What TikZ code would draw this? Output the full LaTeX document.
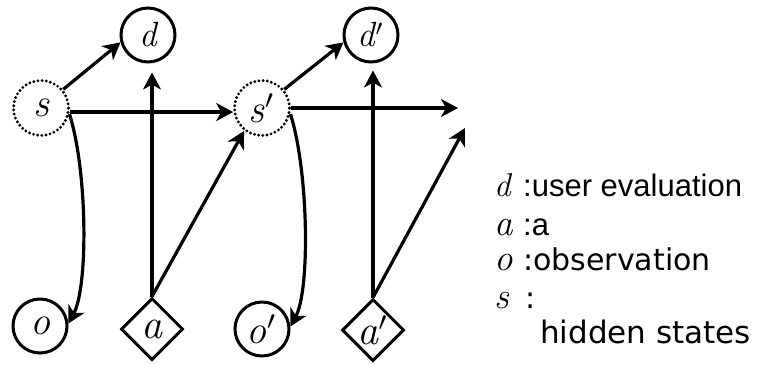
\documentclass[tikz,border=0pt]{standalone}
\usepackage{graphicx}
\usepackage{fontspec}
\usetikzlibrary{arrows.meta,shapes.geometric}
\newfontfamily\legendsans{Liberation Sans}
\newfontfamily\legendwide{DejaVu Sans}
% italic variable letter at a given size, and a prime to follow it
\newcommand{\mvar}[2]{{\fontsize{#1}{#1}\selectfont\itshape #2}}
\newcommand{\mprime}[1]{\scalebox{#1}{$'$}}

\begin{document}
\begin{tikzpicture}[x=1pt,y=-1pt,
  var/.style={circle,draw,line width=3pt,minimum size=54pt,inner sep=0pt},
  hid/.style={circle,draw,line width=3.2pt,dash pattern=on 0pt off 4.2pt,line cap=round,minimum size=55pt,inner sep=0pt},
  act/.style={diamond,draw,line width=3pt,minimum size=62pt,inner sep=0pt},
  link/.style={line width=3.2pt,-{Stealth[length=17pt,width=18pt,inset=5pt]}},
  key/.style={anchor=base west,inner sep=0pt},
]
  \useasboundingbox (0,0) rectangle (771,365);

  % variables of two time slices
  \node[var] (d)  at (148,35)  {\mvar{35}{d}};
  \node[hid] (s)  at (41,108)  {\mvar{40}{s}};
  \node[var] (o)  at (40,326)  {\mvar{40}{o}};
  \node[act] (a)  at (152,329) {\mvar{42}{a}};
  \node[var] (d2) at (371,35)  {\mvar{35}{d}\mprime{3.2}};
  \node[hid] (s2) at (262,108) {\mvar{40}{s}\mprime{3.8}};
  \node[var] (o2) at (262,329) {\mvar{40}{o}\mprime{3.8}};
  \node[act] (a2) at (373,330) {\mvar{42}{a}\mprime{3.8}};

  % open ends toward the next slice
  \coordinate (nxt1) at (458,108);
  \coordinate (nxt2) at (465,128);

  % dependencies
  \draw[link] (s.40) -- (d.195);
  \draw[link] (s.-8) -- (s2.188);
  \draw[link] (s.-12) .. controls +(18,57) and +(20,-37) .. (o.5);
  \draw[link,shorten >=9pt] (a.north) -- (a.north |- d.south);
  \draw[link] (a.north) -- (s2.232);

  \draw[link] (s2.40) -- (d2.195);
  \draw[link] (s2.east) -- (nxt1);
  \draw[link] (s2.-12) .. controls +(18,57) and +(20,-37) .. (o2.5);
  \draw[link,shorten >=7pt] (a2.north) -- (a2.north |- d2.south);
  \draw[link] (a2.north) -- (nxt2);

  % legend
  \node[key] (kd) at (494,196) {\mvar{33}{d}};
  \node[key,font=\legendsans\fontsize{31}{33}\selectfont] (td) at (523,196) {:user evaluation};
  \node[key] (ka) at (494,235) {\mvar{37}{a}};
  \node[key,font=\legendsans\fontsize{31}{33}\selectfont] (ta) at (523,235) {:a};
  \node[key] (ko) at (494,270) {\mvar{37}{o}};
  \node[key,font=\legendwide\fontsize{30}{32}\selectfont] (to) at (523,270) {:observation};
  \node[key] (ks) at (494,308) {\mvar{37}{s}};
  \node[key,font=\legendwide\fontsize{30}{32}\selectfont] (ts) at (525,308) {:};
  \node[key,font=\legendwide\fontsize{31}{33}\selectfont] (th) at (540,343) {hidden states};
\end{tikzpicture}
\end{document}
